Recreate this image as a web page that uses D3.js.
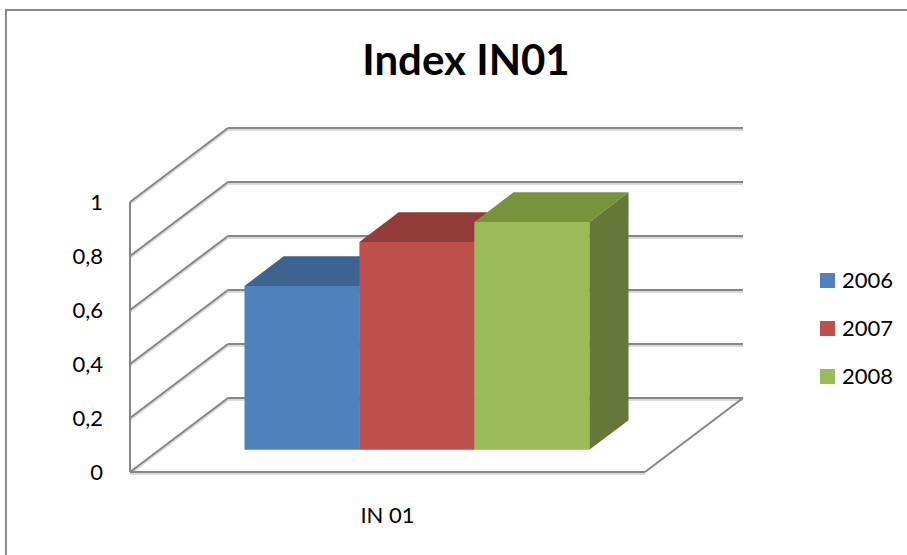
<!DOCTYPE html>
<html>
<head>
<meta charset="utf-8">
<script src="https://cdn.jsdelivr.net/npm/d3@7"></script>
<style>
  body { margin: 0; background: #fff; }
  text { font-family: "Lato", "Open Sans", sans-serif; fill: #000; }
</style>
</head>
<body>
<div class="chart"></div>
<script>
var svgWidth = 907;
var svgHeight = 555;

// data
var category = "IN 01";
var seriesNames = ["2006", "2007", "2008"];
var seriesValues = [0.607, 0.77, 0.844];
var tickValues = [0, 0.2, 0.4, 0.6, 0.8, 1];

var frontColors = ["#4f81bd", "#c0504d", "#9bbb59"];
var topColors = ["#3d6490", "#943c3a", "#77933c"];
var sideColors = ["#355a85", "#833331", "#66773a"];

// front floor origin and depth vector of the oblique box
var originX = 130;
var originY = 472;
var floorWidth = 515;
var depthX = 98;
var depthY = 74;

var svg = d3.select(".chart")
  .append("svg")
  .attr("width", svgWidth)
  .attr("height", svgHeight);

// outer frame
svg.append("rect")
  .attr("x", 6).attr("y", 10)
  .attr("width", 1000).attr("height", 1000)
  .attr("fill", "none")
  .attr("stroke", "#8a8a8a")
  .attr("stroke-width", 2);

var yScale = d3.scaleLinear().domain([0, 1]).range([0, 270]);
var xBand = d3.scaleBand().domain(seriesNames).range([0, floorWidth]).paddingOuter(0.74).paddingInner(0);

// project (x along floor, value, depth fraction) to screen
function proj(x, v, d) {
  return [originX + x + d * depthX, originY - d * depthY - yScale(v)];
}

var chart = svg.append("g");

function line(p1, p2, color, w) {
  chart.append("line")
    .attr("x1", p1[0]).attr("y1", p1[1])
    .attr("x2", p2[0]).attr("y2", p2[1])
    .attr("stroke", color)
    .attr("stroke-width", w);
}

// shadow under gridlines
tickValues.forEach(function(v) {
  var a = proj(0, v, 0), b = proj(0, v, 1), c = proj(floorWidth, v, 1);
  line([a[0], a[1] + 2], [b[0], b[1] + 2], "#d9d9d9", 2);
  line([b[0], b[1] + 2], [c[0], c[1] + 2], "#d9d9d9", 2);
});

// gridlines: left wall diagonals and back wall lines
tickValues.forEach(function(v) {
  line(proj(0, v, 0), proj(0, v, 1), "#868686", 2);
  line(proj(0, v, 1), proj(floorWidth, v, 1), "#868686", 2);
});

// left wall front edge and floor
line(proj(0, 0, 0), proj(0, 1, 0), "#868686", 2);
line(proj(0, 0, 0), proj(floorWidth, 0, 0), "#868686", 2);
line(proj(floorWidth, 0, 0), proj(floorWidth, 0, 1), "#868686", 2);
line([originX, originY + 2], [originX + floorWidth, originY + 2], "#d9d9d9", 2);

// bars
var d0 = 0.3, d1 = 0.7;
var bars = chart.selectAll(".bar")
  .data(seriesNames.map(function(s, i) { return { name: s, value: seriesValues[i], i: i }; }))
  .enter()
  .append("g")
  .attr("class", "bar");

function poly(pts) {
  return "M" + pts.map(function(p) { return p.join(","); }).join("L") + "Z";
}

bars.each(function(b) {
  var g = d3.select(this);
  var x0 = xBand(b.name), x1 = x0 + xBand.bandwidth();
  // side
  g.append("path")
    .attr("d", poly([proj(x1, 0, d0), proj(x1, 0, d1), proj(x1, b.value, d1), proj(x1, b.value, d0)]))
    .attr("fill", sideColors[b.i]);
  // top
  g.append("path")
    .attr("d", poly([proj(x0, b.value, d0), proj(x1, b.value, d0), proj(x1, b.value, d1), proj(x0, b.value, d1)]))
    .attr("fill", topColors[b.i]);
  // front
  g.append("path")
    .attr("d", poly([proj(x0, 0, d0), proj(x1, 0, d0), proj(x1, b.value, d0), proj(x0, b.value, d0)]))
    .attr("fill", frontColors[b.i]);
});

// y axis labels
var yAxisScale = d3.scaleLinear().domain([0, 1]).range([originY, originY - 270]);
var yAxis = d3.axisLeft(yAxisScale)
  .tickValues(tickValues)
  .tickSize(0)
  .tickPadding(27)
  .tickFormat(function(d) { return String(d).replace(".", ","); });

var yg = svg.append("g")
  .attr("transform", "translate(" + originX + ",0)")
  .call(yAxis);
yg.select(".domain").remove();
yg.selectAll("text")
  .attr("font-size", 22)
  .attr("font-family", "Lato, 'Open Sans', sans-serif")
  .attr("fill", "#000");

// category label
svg.append("text")
  .attr("x", originX + floorWidth / 2)
  .attr("y", 523)
  .attr("text-anchor", "middle")
  .attr("font-size", 22)
  .text(category);

// title
svg.append("text")
  .attr("x", 466)
  .attr("y", 75)
  .attr("text-anchor", "middle")
  .attr("font-size", 42)
  .attr("font-weight", "bold")
  .text("Index IN01");

// legend
var legend = svg.selectAll(".legend")
  .data(seriesNames)
  .enter()
  .append("g")
  .attr("class", "legend")
  .attr("transform", function(d, i) { return "translate(820," + (273 + i * 48) + ")"; });

legend.append("rect")
  .attr("width", 15).attr("height", 15)
  .attr("fill", function(d, i) { return frontColors[i]; });

legend.append("text")
  .attr("x", 22)
  .attr("y", 15)
  .attr("font-size", 22)
  .text(function(d) { return d; });
</script>
</body>
</html>
